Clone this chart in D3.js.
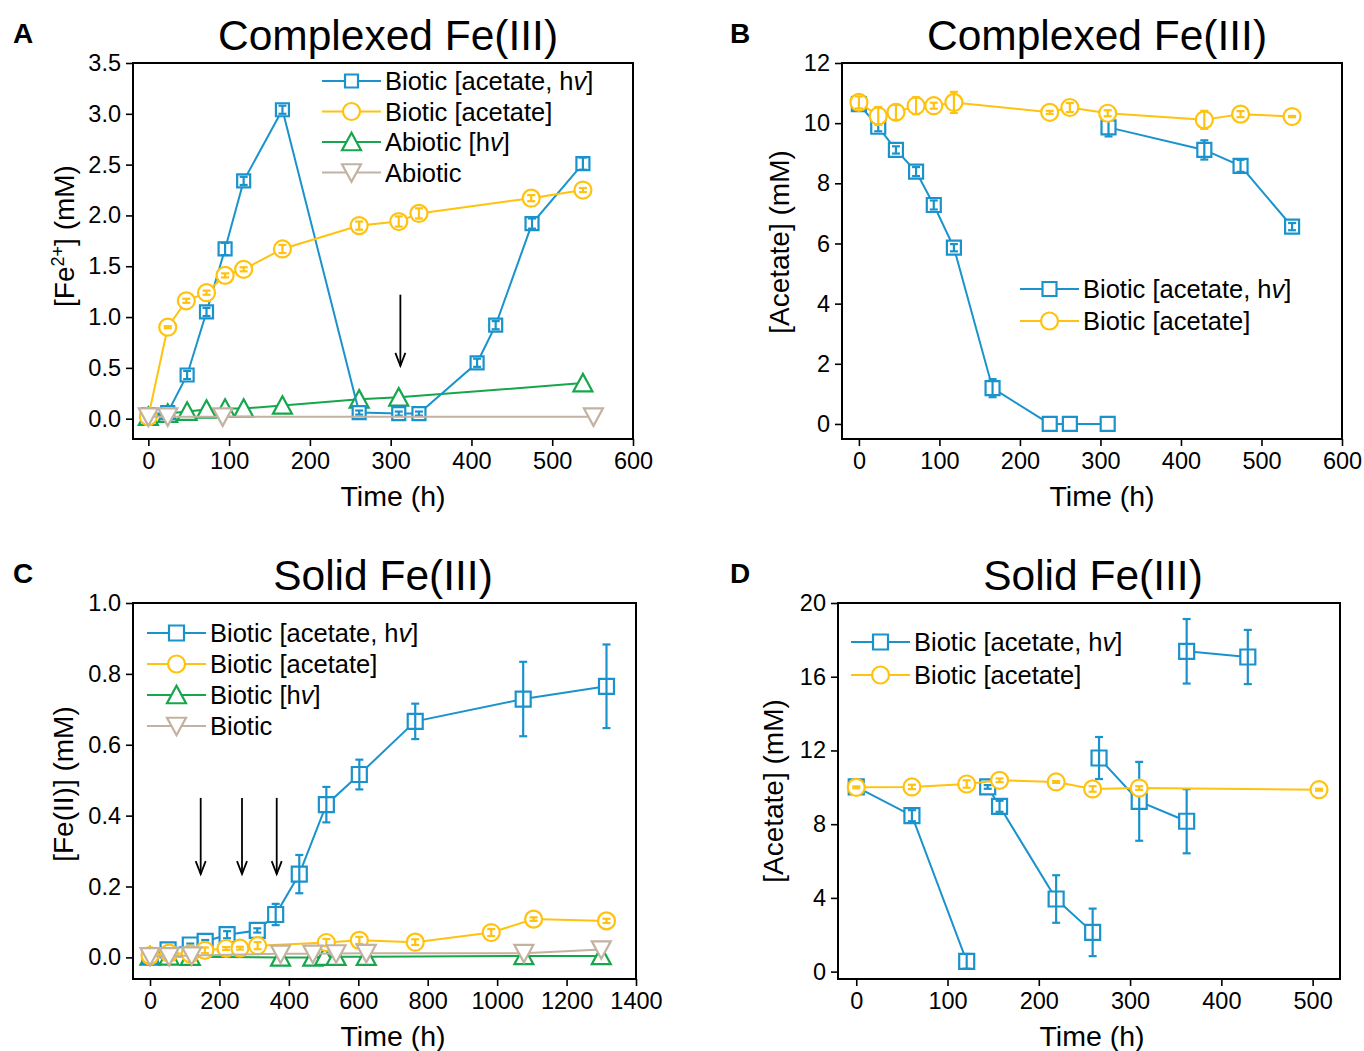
<!DOCTYPE html>
<html>
<head>
<meta charset="utf-8">
<script src="https://cdn.jsdelivr.net/npm/d3@7"></script>
<style>
  body { margin: 0; background: #fff; }
  svg { display: block; font-family: "Liberation Sans", Arial, sans-serif; }
</style>
</head>
<body>
<svg id="chart" width="1364" height="1051"></svg>
<script>
// ---- Panel A: complexed Fe(III), [Fe2+] (mM) ----
const aHvAcT = [0, 24, 48, 72, 95, 118, 166, 261, 310, 335, 407, 430, 475, 538];
const aHvAcY = [0.04, 0.06, 0.43, 1.05, 1.67, 2.34, 3.04, 0.06, 0.05, 0.05, 0.55, 0.92, 1.92, 2.51];
const aHvAcE = [0.02, 0.02, 0.04, 0.04, 0.06, 0.04, 0.04, 0.02, 0.02, 0.02, 0.04, 0.04, 0.05, 0.06];
const aAcT = [0, 24, 47, 72, 95, 118, 166, 261, 310, 335, 474, 538];
const aAcY = [0.02, 0.90, 1.16, 1.24, 1.41, 1.47, 1.67, 1.90, 1.94, 2.02, 2.17, 2.25];
const aAcE = [0.01, 0.01, 0.02, 0.02, 0.02, 0.02, 0.04, 0.04, 0.05, 0.05, 0.03, 0.02];
const aHvT = [0, 24, 48, 72, 95, 118, 166, 261, 310, 538];
const aHvY = [0.02, 0.05, 0.07, 0.09, 0.10, 0.10, 0.13, 0.19, 0.21, 0.35];
const aDarkT = [0, 24, 92, 551];
const aDarkY = [0.02, 0.02, 0.02, 0.02];
const aYTicks = [0, 0.5, 1.0, 1.5, 2.0, 2.5, 3.0, 3.5];
const aXTicks = [0, 100, 200, 300, 400, 500, 600];

// ---- Panel B: complexed Fe(III), acetate (mM) ----
const bHvAcT = [0, 24, 46, 71, 93, 118, 166, 237, 262, 309, 310, 429, 474, 538];
const bHvAcY = [10.63, 9.88, 9.11, 8.39, 7.28, 5.86, 1.19, 0, 0, 0, 9.86, 9.11, 8.58, 6.56];
const bHvAcE = [0.1, 0.15, 0.12, 0.15, 0.15, 0.12, 0.3, 0, 0, 0, 0.3, 0.32, 0.2, 0.12];
const bHvAcSeg = [0, 0, 0, 0, 0, 0, 0, 0, 0, 0, 1, 1, 1, 1];
const bAcT = [0, 24, 46, 71, 93, 118, 237, 262, 309, 429, 474, 538];
const bAcY = [10.69, 10.24, 10.36, 10.58, 10.58, 10.69, 10.36, 10.52, 10.33, 10.11, 10.30, 10.22];
const bAcE = [0.2, 0.3, 0.25, 0.28, 0.1, 0.35, 0.05, 0.15, 0.1, 0.3, 0.1, 0.02];
const bYTicks = [0, 2, 4, 6, 8, 10, 12];
const bXTicks = [0, 100, 200, 300, 400, 500, 600];

// ---- Panel C: solid Fe(III), [Fe(II)] (mM) ----
const cHvAcT = [0, 52, 116, 159, 222, 309, 362, 430, 508, 603, 764, 1075, 1315];
const cHvAcY = [0.003, 0.021, 0.035, 0.045, 0.064, 0.076, 0.121, 0.235, 0.431, 0.516, 0.666, 0.729, 0.765];
const cHvAcE = [0.002, 0.004, 0.004, 0.004, 0.01, 0.006, 0.03, 0.054, 0.05, 0.042, 0.05, 0.105, 0.118];
const cAcT = [0, 55, 116, 158, 219, 259, 310, 508, 603, 764, 983, 1105, 1315];
const cAcY = [0.005, 0.012, 0.01, 0.02, 0.025, 0.026, 0.033, 0.042, 0.048, 0.043, 0.07, 0.108, 0.103];
const cAcE = [0.002, 0.004, 0.004, 0.008, 0.004, 0.004, 0.01, 0.01, 0.01, 0.008, 0.01, 0.005, 0.006];
const cHvT = [0, 55, 116, 376, 469, 503, 536, 623, 1077, 1300];
const cHvY = [0.003, 0.003, 0.002, 0.0, 0.0, 0.002, 0.002, 0.002, 0.004, 0.004];
const cDarkT = [0, 55, 120, 376, 469, 536, 623, 1077, 1300];
const cDarkY = [0.003, 0.003, 0.005, 0.01, 0.01, 0.011, 0.012, 0.012, 0.022];
const cYTicks = [0, 0.2, 0.4, 0.6, 0.8, 1.0];
const cXTicks = [0, 200, 400, 600, 800, 1000, 1200, 1400];

// ---- Panel D: solid Fe(III), acetate (mM) ----
const dHvAcT = [0, 61, 121, 144, 157, 219, 259, 266, 310, 362, 362, 429];
const dHvAcY = [10.02, 8.46, 0.56, 10.02, 8.97, 3.94, 2.13, 11.59, 9.24, 8.16, 17.38, 17.07];
const dHvAcE = [0.1, 0.3, 0.4, 0.1, 0.3, 1.29, 1.29, 1.14, 2.14, 1.74, 1.75, 1.47];
const dHvAcSeg = [0, 0, 0, 1, 1, 1, 1, 2, 2, 2, 3, 3];
const dAcT = [0, 61, 121, 157, 219, 259, 310, 507];
const dAcY = [10.0, 10.02, 10.18, 10.38, 10.29, 9.91, 9.96, 9.87];
const dAcE = [0.05, 0.12, 0.2, 0.1, 0.05, 0.15, 0.1, 0.05];
const dYTicks = [0, 4, 8, 12, 16, 20];
const dXTicks = [0, 100, 200, 300, 400, 500];

// arrows (time points)
const aArrowT = [312];
const cArrowT = [146, 265, 365];

const BLUE = "#1a93cd", YELLOW = "#ffc20e", GREEN = "#16a64b", TAN = "#c3b2a1";

const svg = d3.select("#chart");

function rows(t, y, e, seg) {
  return t.map((v, i) => ({ t: v, y: y[i], e: e ? e[i] : 0, s: seg ? seg[i] : 0 }));
}

function shapePath(shape, size) {
  const h = size / 2;
  if (shape === "square") return `M${-h},${-h}H${h}V${h}H${-h}Z`;
  if (shape === "circle") return `M${h},0A${h},${h} 0 1 1 ${-h},0A${h},${h} 0 1 1 ${h},0Z`;
  const th = size * 0.866 / 2;
  if (shape === "up") return `M0,${-th - 1}L${h},${th}L${-h},${th}Z`;
  return `M0,${th + 1}L${h},${-th}L${-h},${-th}Z`;
}

function hvText(sel, label) {
  // italic "v" in "hv"
  const parts = label.split("hv");
  sel.append("tspan").text(parts[0]);
  if (parts.length > 1) {
    sel.append("tspan").text("h");
    sel.append("tspan").attr("font-style", "italic").text("v");
    sel.append("tspan").text(parts[1]);
  }
}

function panel(cfg) {
  const x = d3.scaleLinear().domain(cfg.xDomain).range([cfg.left, cfg.right]);
  const y = d3.scaleLinear().domain(cfg.yDomain).range([cfg.bottom, cfg.top]);
  const g = svg.append("g");

  // axes
  const ax = g.append("g").attr("transform", `translate(0,${cfg.bottom})`)
    .call(d3.axisBottom(x).tickValues(cfg.xTicks).tickSize(7).tickSizeOuter(0).tickPadding(6).tickFormat(d3.format("d")));
  const ay = g.append("g").attr("transform", `translate(${cfg.left},0)`)
    .call(d3.axisLeft(y).tickValues(cfg.yTicks).tickSize(7).tickSizeOuter(0).tickPadding(5).tickFormat(cfg.yFmt));
  [ax, ay].forEach(a => {
    a.select(".domain").remove();
    a.selectAll("line").attr("stroke", "#000").attr("stroke-width", 1.6);
    a.selectAll("text").attr("font-size", 23.5).attr("fill", "#000")
      .attr("font-family", "'Liberation Sans', Arial, sans-serif");
  });

  // frame
  g.append("rect").attr("x", cfg.left).attr("y", cfg.top)
    .attr("width", cfg.right - cfg.left).attr("height", cfg.bottom - cfg.top)
    .attr("fill", "none").attr("stroke", "#000").attr("stroke-width", 2);

  // series
  cfg.series.forEach(s => {
    const data = s.data;
    const line = d3.line().x(d => x(d.t)).y(d => y(d.y));
    d3.groups(data, d => d.s).forEach(([, seg]) => {
      g.append("path").attr("d", line(seg)).attr("fill", "none")
        .attr("stroke", s.color).attr("stroke-width", 2);
    });
    const pts = g.append("g").selectAll("g").data(data).join("g")
      .attr("transform", d => `translate(${x(d.t)},${y(d.y)})`);
    pts.append("path").attr("d", shapePath(s.shape, s.size))
      .attr("fill", "#fff").attr("stroke", s.color).attr("stroke-width", 2.2);
    // error bars
    const eb = g.append("g").attr("stroke", s.color).attr("stroke-width", 2.2);
    data.filter(d => d.e > 0).forEach(d => {
      const cx = x(d.t), y1 = y(d.y - d.e), y2 = y(d.y + d.e), c = 4;
      eb.append("line").attr("x1", cx).attr("x2", cx).attr("y1", y1).attr("y2", y2);
      eb.append("line").attr("x1", cx - c).attr("x2", cx + c).attr("y1", y1).attr("y2", y1);
      eb.append("line").attr("x1", cx - c).attr("x2", cx + c).attr("y1", y2).attr("y2", y2);
    });
  });

  // arrows
  (cfg.arrows || []).forEach(t => {
    const ax0 = x(t), y0 = y(cfg.arrowFrom), y1 = y(cfg.arrowTo);
    g.append("line").attr("x1", ax0).attr("x2", ax0).attr("y1", y0).attr("y2", y1)
      .attr("stroke", "#000").attr("stroke-width", 1.8);
    g.append("path").attr("d", `M${ax0 - 5},${y1 - 13}L${ax0},${y1}L${ax0 + 5},${y1 - 13}`)
      .attr("fill", "none").attr("stroke", "#000").attr("stroke-width", 1.8);
  });

  // legend
  const lg = cfg.legend;
  cfg.series.slice().sort((a, b) => a.order - b.order).forEach((s, i) => {
    const cy = lg.y + i * lg.dy;
    g.append("line").attr("x1", lg.x).attr("x2", lg.x + 59).attr("y1", cy).attr("y2", cy)
      .attr("stroke", s.color).attr("stroke-width", 2);
    g.append("path").attr("transform", `translate(${lg.x + 29.5},${cy})`)
      .attr("d", shapePath(s.shape, s.legendSize || s.size))
      .attr("fill", "#fff").attr("stroke", s.color).attr("stroke-width", 2.2);
    const tx = g.append("text").attr("x", lg.x + 63).attr("y", cy + 9)
      .attr("font-size", 25.5).attr("fill", "#000");
    hvText(tx, s.name);
  });

  // titles
  g.append("text").attr("x", cfg.titleX).attr("y", cfg.titleY).attr("text-anchor", "middle")
    .attr("font-size", 42.5).text(cfg.title);
  g.append("text").attr("x", cfg.letterX).attr("y", cfg.titleY - 7)
    .attr("font-size", 28).attr("font-weight", "bold").text(cfg.letter);
  g.append("text").attr("x", cfg.xTitleX).attr("y", cfg.bottom + 67).attr("text-anchor", "middle")
    .attr("font-size", 28.5).text("Time (h)");
  const yt = g.append("text").attr("text-anchor", "middle").attr("font-size", 28)
    .attr("transform", `translate(${cfg.yTitleX},${cfg.yTitleY}) rotate(-90)`);
  cfg.yTitle(yt);
}

const f1 = d3.format(".1f");

panel({
  left: 133, right: 633, top: 63, bottom: 439,
  xDomain: [-19, 600], yDomain: [-0.2, 3.5], xTicks: aXTicks, yTicks: aYTicks, yFmt: f1,
  title: "Complexed Fe(III)", titleX: 388, titleY: 50, letter: "A", letterX: 13,
  xTitleX: 393, yTitleX: 74, yTitleY: 236,
  yTitle: t => {
    t.append("tspan").text("[Fe");
    t.append("tspan").attr("font-size", 18).attr("dy", -10).text("2+");
    t.append("tspan").attr("dy", 10).text("] (mM)");
  },
  series: [
    { name: "Abiotic [hv]", data: rows(aHvT, aHvY), color: GREEN, shape: "up", size: 19, order: 2 },
    { name: "Biotic [acetate, hv]", data: rows(aHvAcT, aHvAcY, aHvAcE), color: BLUE, shape: "square", size: 13, order: 0 },
    { name: "Biotic [acetate]", data: rows(aAcT, aAcY, aAcE), color: YELLOW, shape: "circle", size: 17, order: 1 },
    { name: "Abiotic", data: rows(aDarkT, aDarkY), color: TAN, shape: "down", size: 19, order: 3 }
  ],
  legend: { x: 322, y: 81, dy: 30.5 },
  arrows: aArrowT, arrowFrom: 1.22, arrowTo: 0.52
});

panel({
  left: 842, right: 1342, top: 63, bottom: 439,
  xDomain: [-21, 600], yDomain: [-0.5, 12], xTicks: bXTicks, yTicks: bYTicks, yFmt: d3.format("d"),
  title: "Complexed Fe(III)", titleX: 1097, titleY: 50, letter: "B", letterX: 730,
  xTitleX: 1102, yTitleX: 789, yTitleY: 242,
  yTitle: t => t.text("[Acetate] (mM)"),
  series: [
    { name: "Biotic [acetate, hv]", data: rows(bHvAcT, bHvAcY, bHvAcE, bHvAcSeg), color: BLUE, shape: "square", size: 14, order: 0 },
    { name: "Biotic [acetate]", data: rows(bAcT, bAcY, bAcE), color: YELLOW, shape: "circle", size: 17, order: 1 }
  ],
  legend: { x: 1020, y: 289, dy: 32 }
});

panel({
  left: 133, right: 636, top: 603, bottom: 979,
  xDomain: [-49, 1400], yDomain: [-0.061, 1.0], xTicks: cXTicks, yTicks: cYTicks, yFmt: f1,
  title: "Solid Fe(III)", titleX: 383, titleY: 590, letter: "C", letterX: 13,
  xTitleX: 393, yTitleX: 73, yTitleY: 784,
  yTitle: t => t.text("[Fe(II)] (mM)"),
  series: [
    { name: "Biotic [hv]", data: rows(cHvT, cHvY), color: GREEN, shape: "up", size: 19, order: 2 },
    { name: "Biotic [acetate, hv]", data: rows(cHvAcT, cHvAcY, cHvAcE), color: BLUE, shape: "square", size: 15, order: 0 },
    { name: "Biotic [acetate]", data: rows(cAcT, cAcY, cAcE), color: YELLOW, shape: "circle", size: 17, order: 1 },
    { name: "Biotic", data: rows(cDarkT, cDarkY), color: TAN, shape: "down", size: 19, order: 3 }
  ],
  legend: { x: 147, y: 633, dy: 31 },
  arrows: cArrowT, arrowFrom: 0.45, arrowTo: 0.235
});

panel({
  left: 838, right: 1340, top: 603, bottom: 979,
  xDomain: [-20, 530], yDomain: [-0.4, 20], xTicks: dXTicks, yTicks: dYTicks, yFmt: d3.format("d"),
  title: "Solid Fe(III)", titleX: 1093, titleY: 590, letter: "D", letterX: 730,
  xTitleX: 1092, yTitleX: 783, yTitleY: 791,
  yTitle: t => t.text("[Acetate] (mM)"),
  series: [
    { name: "Biotic [acetate, hv]", data: rows(dHvAcT, dHvAcY, dHvAcE, dHvAcSeg), color: BLUE, shape: "square", size: 15, order: 0 },
    { name: "Biotic [acetate]", data: rows(dAcT, dAcY, dAcE), color: YELLOW, shape: "circle", size: 17, order: 1 }
  ],
  legend: { x: 851, y: 642, dy: 33 }
});
</script>
</body>
</html>
